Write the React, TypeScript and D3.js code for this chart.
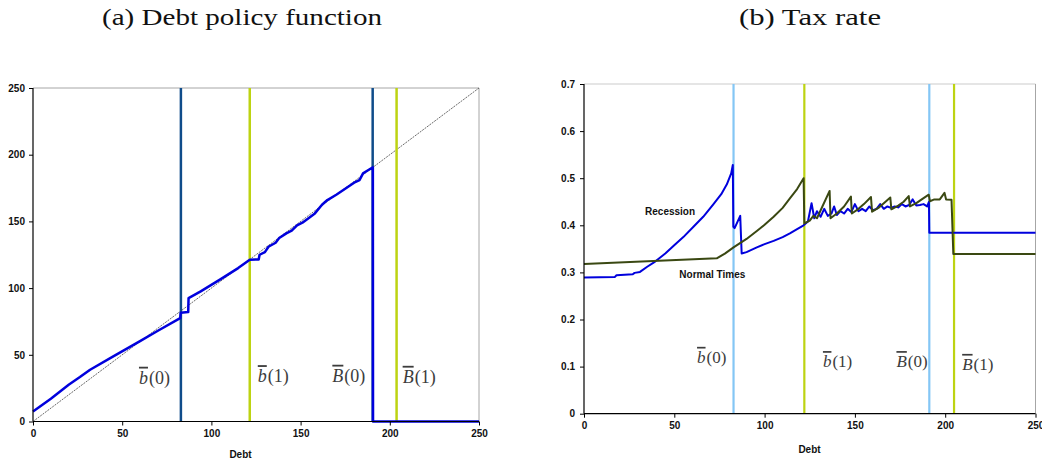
import React, { useRef, useEffect } from "react";
import * as d3 from "d3";

// debt policy b'(b), panel (a)
const policyDebt = [0, 10, 20, 26.3, 32, 45, 60, 70, 82.5, 82.8, 87, 87.2, 94, 105, 115, 121.5, 126.5, 127, 130, 132, 136, 138, 142, 145, 148, 151, 155, 158, 162, 165, 170, 175, 180, 183, 185, 188, 190.5, 190.6, 250];
const policyValue = [7.5, 17, 27.5, 33.3, 38.8, 48.8, 60.3, 68, 77.5, 81.5, 82, 92.5, 97.5, 106.5, 115, 121.3, 121.5, 125, 127, 131, 134, 137.5, 141, 143, 147, 149, 153, 156, 162.5, 166, 170, 174.5, 179, 181, 186, 188.5, 190.5, 0, 0];

// tax rate, panel (b)
const recessionDebt = [0, 17, 18, 27, 28, 31, 35, 39.4, 45, 49.5, 55, 60.6, 66, 71.7, 76, 79.1, 81.5, 82.4, 82.7, 83.4, 86.5, 87.3, 90, 95.7, 100, 105, 110, 114, 118, 121.6, 124, 126, 127.5, 129, 131, 133, 135, 137, 138.5, 140, 142, 144, 146, 148, 150, 152, 154, 156, 158, 160, 162, 164, 166, 168, 170, 172, 174, 176, 178, 180, 182, 184, 186, 188, 190, 191, 191.2, 250];
const recessionRate = [0.289, 0.29, 0.294, 0.296, 0.299, 0.301, 0.312, 0.323, 0.34, 0.356, 0.375, 0.397, 0.418, 0.445, 0.466, 0.487, 0.51, 0.528, 0.397, 0.394, 0.42, 0.34, 0.343, 0.353, 0.36, 0.367, 0.375, 0.383, 0.392, 0.4, 0.408, 0.447, 0.415, 0.43, 0.418, 0.435, 0.42, 0.425, 0.44, 0.422, 0.43, 0.425, 0.435, 0.428, 0.445, 0.43, 0.435, 0.43, 0.44, 0.432, 0.435, 0.445, 0.435, 0.44, 0.437, 0.44, 0.438, 0.445, 0.44, 0.443, 0.455, 0.442, 0.443, 0.445, 0.44, 0.45, 0.384, 0.384];

const normalDebt = [0, 73.5, 78, 82.8, 90, 95.7, 100, 105, 110, 114, 118, 121.6, 122, 125, 127, 129, 132, 136, 136.5, 140, 144, 147.8, 148.3, 152, 155, 158.9, 159.5, 163, 166, 169.6, 170.2, 174, 177, 179.8, 180.5, 184, 187, 190.9, 191.5, 194, 197, 199.6, 200.5, 203.5, 204.5, 250];
const normalRate = [0.318, 0.33, 0.34, 0.353, 0.371, 0.388, 0.401, 0.418, 0.437, 0.457, 0.477, 0.5, 0.404, 0.41, 0.42, 0.415, 0.44, 0.473, 0.415, 0.425, 0.44, 0.461, 0.425, 0.435, 0.445, 0.46, 0.429, 0.437, 0.447, 0.459, 0.434, 0.442, 0.45, 0.462, 0.44, 0.447, 0.455, 0.465, 0.451, 0.455, 0.455, 0.469, 0.455, 0.454, 0.339, 0.339];

// thresholds b(0), b(1), B(0), B(1)
const leftThresholds = [82.9, 121.5, 190.4, 203.8];
const rightThresholds = [82.8, 122, 191.2, 204.9];
const thresholdNames = [["b", "(0)"], ["b", "(1)"], ["B", "(0)"], ["B", "(1)"]];
const leftLabelPos = [[59.4, 28.3], [126, 29.5], [167.8, 29.8], [207.2, 29]];
const rightLabelPos = [[62.6, 0.108], [132.3, 0.099], [173, 0.099], [209.4, 0.093]];

const debtTicks = [0, 50, 100, 150, 200, 250];
const rateTicks = [0, 0.1, 0.2, 0.3, 0.4, 0.5, 0.6, 0.7];

const BLUE = "#0000dd";
const OLIVE = "#3a4812";
const DARKBLUE = "#0f4c8a";
const LIGHTBLUE = "#84c6f5";
const GREEN = "#bdd312";
const AXISFONT = "'Liberation Sans', Arial, sans-serif";
const SERIF = "'Liberation Serif', 'DejaVu Serif', serif";

const leftX = d3.scaleLinear().domain([0, 250]).range([33, 479]);
const leftY = d3.scaleLinear().domain([0, 250]).range([421.5, 88]);
const rightX = d3.scaleLinear().domain([0, 250]).range([584, 1035.5]);
const rightY = d3.scaleLinear().domain([0, 0.7]).range([413.7, 84]);

const zip = (a: number[], b: number[]) => a.map((v, i) => [v, b[i]] as [number, number]);

function styleAxis(g: any) {
  g.select(".domain").remove();
  g.selectAll("line").attr("stroke", "#000");
  g.selectAll("text")
    .attr("font-family", AXISFONT)
    .attr("font-weight", "bold")
    .attr("font-size", 10)
    .attr("fill", "#111");
}

const ThresholdLabel = ({ x, y, name, size }: any) => (
  <text x={x} y={y} fontFamily={SERIF} fontSize={size} fill="#3c3c3c">
    <tspan fontStyle="italic" style={{ textDecoration: "overline" }}>{name[0]}</tspan>
    <tspan dx={1}>{name[1]}</tspan>
  </text>
);

const App = () => {
  const lyRef = useRef<SVGGElement>(null);
  const lxRef = useRef<SVGGElement>(null);
  const ryRef = useRef<SVGGElement>(null);
  const rxRef = useRef<SVGGElement>(null);

  useEffect(() => {
    d3.select(lyRef.current).call(d3.axisLeft(leftY).tickValues(debtTicks).tickSize(4).tickPadding(4) as any).call(styleAxis);
    d3.select(lxRef.current).call(d3.axisBottom(leftX).tickValues(debtTicks).tickSize(4).tickPadding(4) as any).call(styleAxis);
    d3.select(ryRef.current)
      .call(d3.axisLeft(rightY).tickValues(rateTicks).tickSize(4).tickPadding(5)
        .tickFormat((d: any) => (d === 0 ? "0" : d3.format(".1f")(d))) as any)
      .call(styleAxis);
    d3.select(rxRef.current).call(d3.axisBottom(rightX).tickValues(debtTicks).tickSize(4).tickPadding(4) as any).call(styleAxis);
  }, []);

  const leftLine = d3.line<[number, number]>().x((d) => leftX(d[0])).y((d) => leftY(d[1]));
  const rightLine = d3.line<[number, number]>().x((d) => rightX(d[0])).y((d) => rightY(d[1]));

  return (
    <svg width={1042} height={464} style={{ position: "absolute", left: 0, top: 0, background: "#fff" }}>
      {/* titles */}
      <text x={242} y={25} textAnchor="middle" fontFamily={SERIF} fontSize={23} textLength={280} lengthAdjust="spacingAndGlyphs" fill="#111">(a) Debt policy function</text>
      <text x={810} y={25} textAnchor="middle" fontFamily={SERIF} fontSize={23} textLength={142} lengthAdjust="spacingAndGlyphs" fill="#111">(b) Tax rate</text>

      {/* panel (a) */}
      <line x1={leftX(0)} x2={leftX(250)} y1={leftY(250)} y2={leftY(250)} stroke="#a6a6a6" />
      <line x1={leftX(250)} x2={leftX(250)} y1={leftY(250)} y2={leftY(0)} stroke="#a6a6a6" />
      <line x1={leftX(0)} y1={leftY(0)} x2={leftX(250)} y2={leftY(250)} stroke="#444" strokeWidth={0.8} strokeDasharray="2,1" />
      {leftThresholds.map((t, i) => (
        <line key={i} x1={leftX(t)} x2={leftX(t)} y1={leftY(250)} y2={leftY(0)} stroke={i % 2 ? GREEN : DARKBLUE} strokeWidth={2.5} />
      ))}
      <path d={leftLine(zip(policyDebt, policyValue)) || ""} fill="none" stroke={BLUE} strokeWidth={2.5} strokeLinejoin="round" />
      <line x1={leftX(0)} x2={leftX(0)} y1={leftY(250)} y2={leftY(0)} stroke="#000" strokeWidth={1.2} />
      <line x1={leftX(0)} x2={leftX(250)} y1={leftY(0)} y2={leftY(0)} stroke="#000" strokeWidth={1.2} />
      <g ref={lyRef} transform={`translate(${leftX(0)},0)`} />
      <g ref={lxRef} transform={`translate(0,${leftY(0)})`} />
      <text x={240.5} y={458} textAnchor="middle" fontFamily={AXISFONT} fontWeight="bold" fontSize={10} fill="#111">Debt</text>
      {thresholdNames.map((n, i) => (
        <ThresholdLabel key={i} x={leftX(leftLabelPos[i][0])} y={leftY(leftLabelPos[i][1])} name={n} size={18} />
      ))}

      {/* panel (b) */}
      <line x1={rightX(0)} x2={rightX(250)} y1={rightY(0.7)} y2={rightY(0.7)} stroke="#cccccc" strokeWidth={1.2} />
      <line x1={rightX(250)} x2={rightX(250)} y1={rightY(0.7)} y2={rightY(0)} stroke="#a6a6a6" />
      {rightThresholds.map((t, i) => (
        <line key={i} x1={rightX(t)} x2={rightX(t)} y1={rightY(0.7)} y2={rightY(0)} stroke={i % 2 ? GREEN : LIGHTBLUE} strokeWidth={2.2} />
      ))}
      <path d={rightLine(zip(recessionDebt, recessionRate)) || ""} fill="none" stroke={BLUE} strokeWidth={2} strokeLinejoin="round" />
      <path d={rightLine(zip(normalDebt, normalRate)) || ""} fill="none" stroke={OLIVE} strokeWidth={2} strokeLinejoin="round" />
      <line x1={rightX(0)} x2={rightX(0)} y1={rightY(0.7)} y2={rightY(0)} stroke="#000" strokeWidth={1.2} />
      <line x1={rightX(0)} x2={rightX(250)} y1={rightY(0)} y2={rightY(0)} stroke="#000" strokeWidth={1.2} />
      <g ref={ryRef} transform={`translate(${rightX(0)},0)`} />
      <g ref={rxRef} transform={`translate(0,${rightY(0)})`} />
      <text x={809.5} y={453} textAnchor="middle" fontFamily={AXISFONT} fontWeight="bold" fontSize={10} fill="#111">Debt</text>
      <text x={rightX(33.8)} y={rightY(0.422)} fontFamily={AXISFONT} fontWeight="bold" fontSize={10} fill="#111">Recession</text>
      <text x={rightX(52.8)} y={rightY(0.289)} fontFamily={AXISFONT} fontWeight="bold" fontSize={10} fill="#111">Normal Times</text>
      {thresholdNames.map((n, i) => (
        <ThresholdLabel key={i} x={rightX(rightLabelPos[i][0])} y={rightY(rightLabelPos[i][1])} name={n} size={17} />
      ))}
    </svg>
  );
};

export default App;
